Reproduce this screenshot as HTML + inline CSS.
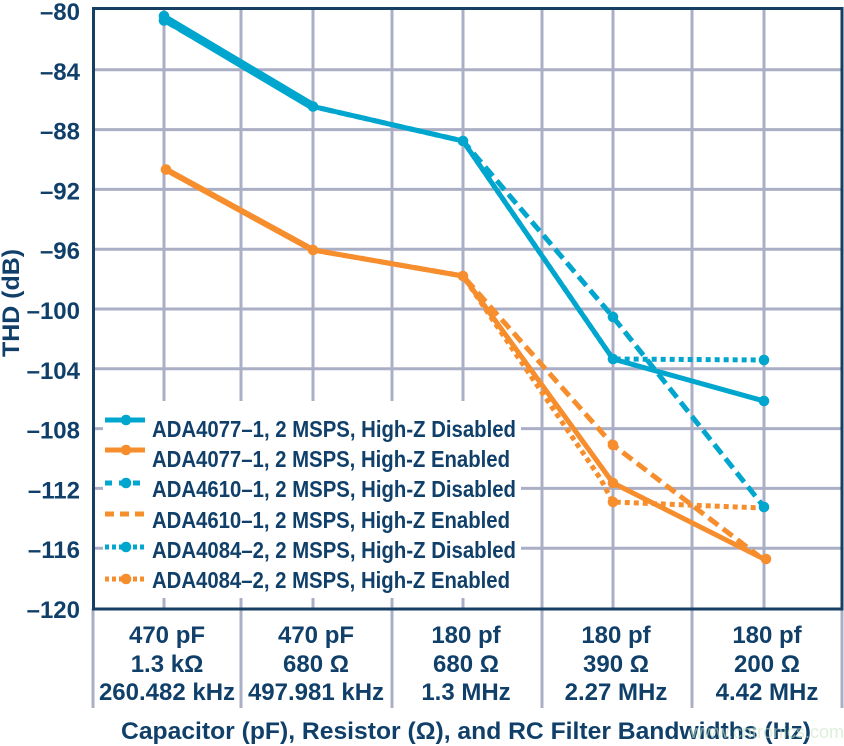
<!DOCTYPE html>
<html>
<head>
<meta charset="utf-8">
<style>
html,body{margin:0;padding:0;background:#fff;}
svg{display:block;}
text{font-family:"Liberation Sans",Arial,sans-serif;font-weight:bold;fill:#10406a;}
</style>
</head>
<body>
<svg width="844" height="746" viewBox="0 0 844 746" xmlns="http://www.w3.org/2000/svg">
  <rect x="0" y="0" width="844" height="746" fill="#fff"/>

  <!-- grid -->
  <g stroke="#abafc5" stroke-width="3">
    <line x1="93" y1="69.8" x2="842" y2="69.8"/>
    <line x1="93" y1="129.6" x2="842" y2="129.6"/>
    <line x1="93" y1="189.4" x2="842" y2="189.4"/>
    <line x1="93" y1="249.2" x2="842" y2="249.2"/>
    <line x1="93" y1="309" x2="842" y2="309"/>
    <line x1="93" y1="368.8" x2="842" y2="368.8"/>
    <line x1="93" y1="428.6" x2="842" y2="428.6"/>
    <line x1="93" y1="488.4" x2="842" y2="488.4"/>
    <line x1="93" y1="548.2" x2="842" y2="548.2"/>
    <line x1="164" y1="8" x2="164" y2="609"/>
    <line x1="241" y1="8" x2="241" y2="708"/>
    <line x1="313" y1="8" x2="313" y2="609"/>
    <line x1="392" y1="8" x2="392" y2="708"/>
    <line x1="463" y1="8" x2="463" y2="609"/>
    <line x1="542" y1="8" x2="542" y2="708"/>
    <line x1="613" y1="8" x2="613" y2="609"/>
    <line x1="692" y1="8" x2="692" y2="708"/>
    <line x1="764" y1="8" x2="764" y2="609"/>
    <line x1="842" y1="609" x2="842" y2="708"/>
    <line x1="93" y1="609" x2="93" y2="708"/>
  </g>

  <!-- axes box -->
  <rect x="93.5" y="8.5" width="748.5" height="600.5" fill="none" stroke="#173f63" stroke-width="3"/>

  <!-- series -->
  <g fill="none" stroke-linejoin="round">
    <!-- merged thick first segments -->
    <polyline points="164,18 313,106.5" stroke="#00a6ce" stroke-width="8.5"/>
    <polyline points="166,169.5 313,250" stroke="#f68e2e" stroke-width="6"/>
    <!-- ADA4077-1 disabled solid blue -->
    <polyline points="164,16 313,106.5 463,141 613,359 764,401" stroke="#00a6ce" stroke-width="5"/>
    <!-- ADA4610-1 disabled dashed blue -->
    <polyline points="164,20.5 313,106.5 463,141 613,317 764,507" stroke="#00a6ce" stroke-width="5" stroke-dasharray="12 6"/>
    <!-- ADA4084-2 disabled dotted blue -->
    <polyline points="164,19 313,106.5 463,141 613,359 764,360" stroke="#00a6ce" stroke-width="5" stroke-dasharray="5 4"/>
    <!-- ADA4077-1 enabled solid orange -->
    <polyline points="166,169.5 313,250 463,276 613,483 764,559" stroke="#f68e2e" stroke-width="5"/>
    <!-- ADA4610-1 enabled dashed orange -->
    <polyline points="166,169.5 313,250 463,276 613,445 760,557" stroke="#f68e2e" stroke-width="5" stroke-dasharray="12 6"/>
    <!-- ADA4084-2 enabled dotted orange -->
    <polyline points="166,169.5 313,250 463,276 600,478 613,502 762,508" stroke="#f68e2e" stroke-width="5" stroke-dasharray="5 4"/>
  </g>
  <g fill="#00a6ce">
    <circle cx="164" cy="16" r="5.3"/>
    <circle cx="164" cy="20.5" r="5.3"/>
    <circle cx="313" cy="106.5" r="5.3"/>
    <circle cx="463" cy="141" r="5.3"/>
    <circle cx="613" cy="359" r="5.3"/>
    <circle cx="764" cy="401" r="5.3"/>
    <circle cx="613" cy="317" r="5.3"/>
    <circle cx="764" cy="507" r="5.3"/>
    <circle cx="764" cy="360" r="5.3"/>
  </g>
  <g fill="#f68e2e">
    <circle cx="166" cy="169.5" r="5.3"/>
    <circle cx="313" cy="250" r="5.3"/>
    <circle cx="463" cy="276" r="5.3"/>
    <circle cx="613" cy="483" r="5.3"/>
    <circle cx="766" cy="559" r="5.3"/>
    <circle cx="613" cy="445" r="5.3"/>
    <circle cx="613" cy="502" r="5.3"/>
  </g>

  <!-- legend -->
  <rect x="103" y="401" width="418" height="197" fill="#fff"/>
  <g fill="none">
    <line x1="105" y1="420" x2="145" y2="420" stroke="#00a6ce" stroke-width="5"/>
    <line x1="105" y1="450" x2="145" y2="450" stroke="#f68e2e" stroke-width="5"/>
    <line x1="105" y1="483" x2="145" y2="483" stroke="#00a6ce" stroke-width="5" stroke-dasharray="7 7 0 0 0 0 7 7"/>
    <line x1="105" y1="514" x2="145" y2="514" stroke="#f68e2e" stroke-width="5" stroke-dasharray="9 6"/>
    <line x1="105" y1="547" x2="145" y2="547" stroke="#00a6ce" stroke-width="5" stroke-dasharray="4 3"/>
    <line x1="105" y1="579" x2="145" y2="579" stroke="#f68e2e" stroke-width="5" stroke-dasharray="4 3"/>
  </g>
  <circle cx="126" cy="420" r="5.3" fill="#00a6ce"/>
  <circle cx="126" cy="450" r="5.3" fill="#f68e2e"/>
  <circle cx="126" cy="483" r="5.3" fill="#00a6ce"/>
  <circle cx="126" cy="547" r="5.3" fill="#00a6ce"/>
  <circle cx="126" cy="579" r="5.3" fill="#f68e2e"/>
  <g font-size="23">
    <text x="152" y="437" textLength="364" lengthAdjust="spacingAndGlyphs">ADA4077–1, 2 MSPS, High-Z Disabled</text>
    <text x="152" y="467" textLength="358" lengthAdjust="spacingAndGlyphs">ADA4077–1, 2 MSPS, High-Z Enabled</text>
    <text x="152" y="497" textLength="364" lengthAdjust="spacingAndGlyphs">ADA4610–1, 2 MSPS, High-Z Disabled</text>
    <text x="152" y="528" textLength="358" lengthAdjust="spacingAndGlyphs">ADA4610–1, 2 MSPS, High-Z Enabled</text>
    <text x="152" y="558" textLength="364" lengthAdjust="spacingAndGlyphs">ADA4084–2, 2 MSPS, High-Z Disabled</text>
    <text x="152" y="588" textLength="358" lengthAdjust="spacingAndGlyphs">ADA4084–2, 2 MSPS, High-Z Enabled</text>
  </g>

  <!-- y tick labels -->
  <g font-size="24" text-anchor="end">
    <text x="80" y="20">–80</text>
    <text x="80" y="79.8">–84</text>
    <text x="80" y="139.6">–88</text>
    <text x="80" y="199.4">–92</text>
    <text x="80" y="259.2">–96</text>
    <text x="80" y="319">–100</text>
    <text x="80" y="378.8">–104</text>
    <text x="80" y="438.6">–108</text>
    <text x="80" y="498.4">–112</text>
    <text x="80" y="558.2">–116</text>
    <text x="80" y="618">–120</text>
  </g>

  <!-- y title -->
  <text font-size="24" text-anchor="middle" transform="translate(19,303) rotate(-90)" textLength="108" lengthAdjust="spacingAndGlyphs">THD (dB)</text>

  <!-- x category labels -->
  <g font-size="24" text-anchor="middle">
    <text x="167" y="643">470 pF</text>
    <text x="167" y="672">1.3 kΩ</text>
    <text x="167" y="700">260.482 kHz</text>
    <text x="316" y="643">470 pF</text>
    <text x="316" y="672">680 Ω</text>
    <text x="316" y="700">497.981 kHz</text>
    <text x="466" y="643">180 pf</text>
    <text x="466" y="672">680 Ω</text>
    <text x="466" y="700">1.3 MHz</text>
    <text x="616" y="643">180 pf</text>
    <text x="616" y="672">390 Ω</text>
    <text x="616" y="700">2.27 MHz</text>
    <text x="767" y="643">180 pf</text>
    <text x="767" y="672">200 Ω</text>
    <text x="767" y="700">4.42 MHz</text>
  </g>

  <!-- x title -->
  <text x="121" y="739" font-size="24" textLength="690" lengthAdjust="spacingAndGlyphs">Capacitor (pF), Resistor (Ω), and RC Filter Bandwidths (Hz)</text>

  <!-- faint watermark -->
  <text x="690" y="738" font-size="18" style="fill:#c9e6c4;font-weight:normal;opacity:0.6">www.cntronics.com</text>
</svg>
</body>
</html>
